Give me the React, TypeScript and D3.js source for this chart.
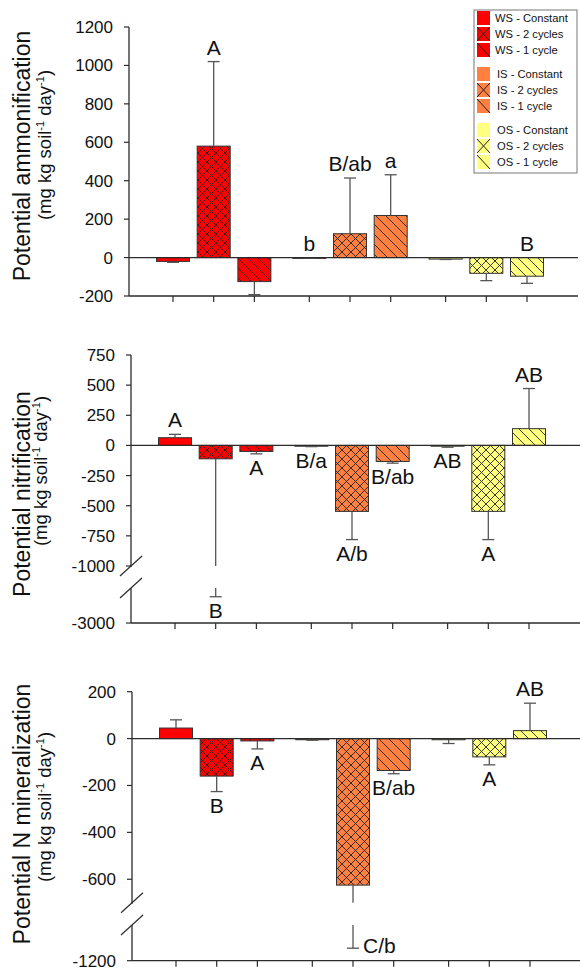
import React from "react";
import * as d3 from "d3";

const groups = ["WS", "IS", "OS"];
const treatments = ["Constant", "2 cycles", "1 cycle"];
const groupColors = ["#FF0000", "#FF8040", "#FFFF80"];
const hatches = ["none", "cross", "diag"];

// Potential ammonification (mean, SE)
const ammonMeans = [-20, 580, -125, -3, 124, 219, -8, -82, -97];
const ammonSE = [5, 440, 68, 1, 290, 212, 2, 38, 37];
const ammonLabels = ["", "A", "", "b", "B/ab", "a", "", "", "B"];
const ammonSides = ["", "above", "", "above", "above", "above", "", "", "above"];
const ammonTicks = [1200, 1000, 800, 600, 400, 200, 0, -200];

// Potential nitrification
const nitrMeans = [64, -111, -50, -5, -547, -133, -5, -547, 139];
const nitrSE = [28, 2139, 20, 5, 234, 14, 10, 234, 333];
const nitrLabels = ["A", "B", "A", "B/a", "A/b", "B/ab", "AB", "A", "AB"];
const nitrSides = ["above", "below", "below", "below", "below", "below", "below", "below", "above"];
const nitrTicks = [750, 500, 250, 0, -250, -500, -750, -1000];
const nitrLowerTicks = [-3000];

// Potential N mineralization
const minMeans = [45, -160, -10, -5, -625, -136, -5, -78, 34];
const minSE = [35, 66, 34, 2, 505, 14, 16, 34, 117];
const minLabels = ["", "B", "A", "", "C/b", "B/ab", "", "A", "AB"];
const minSides = ["", "below", "below", "", "right", "below", "", "below", "above"];
const minTicks = [200, 0, -200, -400, -600];
const minLowerTicks = [-1200];

const FONT = "'Liberation Sans', Arial, Helvetica, sans-serif";
const AXIS = "#2b2b2b";
const ERR = "#555555";

type PanelProps = {
  means: number[];
  ses: number[];
  labels: string[];
  sides: string[];
  ticks: number[];
  lowerTicks?: number[];
  left: number;
  upperDomain: [number, number];
  upperRange: [number, number];
  lowerDomain?: [number, number];
  lowerRange?: [number, number];
  title: string;
  t1: [number, number];
  t2: [number, number];
};

function Panel(p: PanelProps) {
  const right = p.left + 449;
  const x = d3.scaleLinear().domain([0, 8.7]).range([p.left + 44, p.left + 398]);
  const slot = (i: number) => Math.floor(i / 3) * 3.35 + (i % 3);
  const yU = d3.scaleLinear().domain(p.upperDomain).range(p.upperRange);
  const yL = p.lowerDomain ? d3.scaleLinear().domain(p.lowerDomain).range(p.lowerRange!) : null;
  const y = (v: number) => (yL && v < p.upperDomain[0] ? yL(v) : yU(v));
  const axisY = yL ? p.lowerRange![0] : p.upperRange[0];
  const barW = 33;
  const capW = 12;
  const upperEnd = yU(p.upperDomain[0]);
  const lowerStart = yL ? yL(p.lowerDomain![1]) : 0;

  return (
    <g>
      {p.means.map((m, i) => {
        const cx = x(slot(i));
        const g = Math.floor(i / 3);
        const j = i % 3;
        const y0 = y(0);
        const ym = y(m);
        const top = Math.min(y0, ym);
        const h = Math.max(Math.abs(ym - y0), 0.8);
        return (
          <g key={"b" + i}>
            <rect x={cx - barW / 2} y={top} width={barW} height={h} fill={groupColors[g]} />
            {hatches[j] !== "none" && (
              <rect x={cx - barW / 2} y={top} width={barW} height={h} fill={`url(#${hatches[j]})`} />
            )}
            <rect x={cx - barW / 2} y={top} width={barW} height={h} fill="none" stroke="#333" strokeWidth={1} />
          </g>
        );
      })}
      {p.means.map((m, i) => {
        const cx = x(slot(i));
        const s = m >= 0 ? 1 : -1;
        const end = m + s * p.ses[i];
        const broken = yL && end < p.upperDomain[0];
        const yEnd = y(end);
        return (
          <g key={"e" + i} stroke={ERR} strokeWidth={1.3}>
            {broken ? (
              <>
                <line x1={cx} x2={cx} y1={y(m)} y2={upperEnd} />
                <line x1={cx} x2={cx} y1={lowerStart} y2={yEnd} />
              </>
            ) : (
              <line x1={cx} x2={cx} y1={y(m)} y2={yEnd} />
            )}
            <line x1={cx - capW / 2} x2={cx + capW / 2} y1={yEnd} y2={yEnd} />
          </g>
        );
      })}
      <line x1={p.left} x2={right} y1={y(0)} y2={y(0)} stroke={AXIS} strokeWidth={1.2} />
      {p.labels.map((t, i) => {
        if (!t) return null;
        const cx = x(slot(i));
        const m = p.means[i];
        const s = m >= 0 ? 1 : -1;
        const end = m + s * p.ses[i];
        const side = p.sides[i];
        let tx = cx;
        let ty = 0;
        let anchor = "middle";
        if (side === "above") {
          ty = y(Math.max(end, 0)) - 7;
        } else if (side === "below") {
          ty = y(Math.min(end, 0)) + 6 + 15;
        } else {
          tx = cx + 10;
          ty = y(end) + 5;
          anchor = "start";
        }
        return (
          <text key={"l" + i} x={tx} y={ty} textAnchor={anchor} fontSize={21} fill="#111" fontFamily={FONT}>
            {t}
          </text>
        );
      })}
      <line x1={p.left} x2={p.left} y1={p.upperRange[1]} y2={upperEnd + (yL ? 1 : 0)} stroke={AXIS} strokeWidth={1.3} />
      {yL && <line x1={p.left} x2={p.left} y1={lowerStart} y2={axisY} stroke={AXIS} strokeWidth={1.3} />}
      {yL &&
        [upperEnd, lowerStart].map((yc, k) => (
          <line key={"br" + k} x1={p.left - 11} y1={yc + 10} x2={p.left + 11} y2={yc - 10} stroke={AXIS} strokeWidth={1.2} />
        ))}
      {p.ticks.map((t) => (
        <g key={"t" + t}>
          <line x1={p.left - 5} x2={p.left} y1={yU(t)} y2={yU(t)} stroke={AXIS} strokeWidth={1.2} />
          <text x={p.left - 16} y={yU(t)} dy="0.35em" textAnchor="end" fontSize={17} fill="#111" fontFamily={FONT}>
            {t}
          </text>
        </g>
      ))}
      {yL &&
        (p.lowerTicks || []).map((t) => (
          <g key={"lt" + t}>
            <line x1={p.left - 5} x2={p.left} y1={yL(t)} y2={yL(t)} stroke={AXIS} strokeWidth={1.2} />
            <text x={p.left - 16} y={yL(t)} dy="0.35em" textAnchor="end" fontSize={17} fill="#111" fontFamily={FONT}>
              {t}
            </text>
          </g>
        ))}
      <line x1={p.left} x2={right} y1={axisY} y2={axisY} stroke={AXIS} strokeWidth={1.3} />
      {p.means.map((_, i) => (
        <line key={"xt" + i} x1={x(slot(i))} x2={x(slot(i))} y1={axisY} y2={axisY + 6} stroke={AXIS} strokeWidth={1.2} />
      ))}
      <text transform={`translate(${p.t1[0]},${p.t1[1]}) rotate(-90)`} textAnchor="middle" fontSize={23} fill="#111" fontFamily={FONT}>
        {p.title}
      </text>
      <text transform={`translate(${p.t2[0]},${p.t2[1]}) rotate(-90)`} textAnchor="middle" fontSize={18.5} fill="#111" fontFamily={FONT}>
        (mg kg soil<tspan dy={-7} fontSize={11}>-1</tspan>
        <tspan dy={7}> day</tspan>
        <tspan dy={-7} fontSize={11}>-1</tspan>
        <tspan dy={7}>)</tspan>
      </text>
    </g>
  );
}

function Legend() {
  const lx = 474;
  const ly = 10;
  return (
    <g>
      <rect x={lx} y={ly} width={103} height={163} fill="#fff" stroke="#777" strokeWidth={1} />
      {groups.map((g, gi) =>
        treatments.map((t, ti) => {
          const yc = 18 + gi * 56 + ti * 16;
          const sx = 477;
          const sy = yc - 7;
          return (
            <g key={g + t}>
              <rect x={sx} y={sy} width={13} height={14} fill={groupColors[gi]} />
              {hatches[ti] === "cross" && (
                <path d={`M${sx},${sy}L${sx + 13},${sy + 14}M${sx + 13},${sy}L${sx},${sy + 14}`} stroke="#222" strokeWidth={1} />
              )}
              {hatches[ti] === "diag" && (
                <path d={`M${sx},${sy}L${sx + 13},${sy + 14}`} stroke="#222" strokeWidth={1} />
              )}
              <text x={gi === 0 ? 495 : 497} y={yc} dy="0.35em" fontSize={11.2} fill="#111" fontFamily={FONT}>
                {`${g} - ${t}`}
              </text>
            </g>
          );
        })
      )}
    </g>
  );
}

export default function App() {
  return (
    <svg width={580} height={971} style={{ position: "absolute", left: 0, top: 0, background: "#fff" }}>
      <defs>
        <pattern id="cross" patternUnits="userSpaceOnUse" width={9} height={9}>
          <path d="M0,0L9,9M9,0L0,9M-1,1L1,-1M8,10L10,8" stroke="#222" strokeWidth={0.9} fill="none" />
        </pattern>
        <pattern id="diag" patternUnits="userSpaceOnUse" width={10} height={10}>
          <path d="M0,0L10,10M-1,9L1,11M9,-1L11,1" stroke="#222" strokeWidth={0.9} fill="none" />
        </pattern>
      </defs>
      <rect width={580} height={971} fill="#fff" />
      <Panel
        means={ammonMeans}
        ses={ammonSE}
        labels={ammonLabels}
        sides={ammonSides}
        ticks={ammonTicks}
        left={129}
        upperDomain={[-200, 1200]}
        upperRange={[296, 27]}
        title="Potential ammonification"
        t1={[30, 156]}
        t2={[51, 145]}
      />
      <Panel
        means={nitrMeans}
        ses={nitrSE}
        labels={nitrLabels}
        sides={nitrSides}
        ticks={nitrTicks}
        lowerTicks={nitrLowerTicks}
        left={131}
        upperDomain={[-1000, 750]}
        upperRange={[566, 355]}
        lowerDomain={[-3000, -2000]}
        lowerRange={[623, 588]}
        title="Potential nitrification"
        t1={[30, 494]}
        t2={[47, 471]}
      />
      <Panel
        means={minMeans}
        ses={minSE}
        labels={minLabels}
        sides={minSides}
        ticks={minTicks}
        lowerTicks={minLowerTicks}
        left={132}
        upperDomain={[-700, 200]}
        upperRange={[902.7, 691.7]}
        lowerDomain={[-1200, -1000]}
        lowerRange={[960.7, 925]}
        title="Potential N mineralization"
        t1={[30, 814]}
        t2={[51, 807]}
      />
      <Legend />
    </svg>
  );
}
